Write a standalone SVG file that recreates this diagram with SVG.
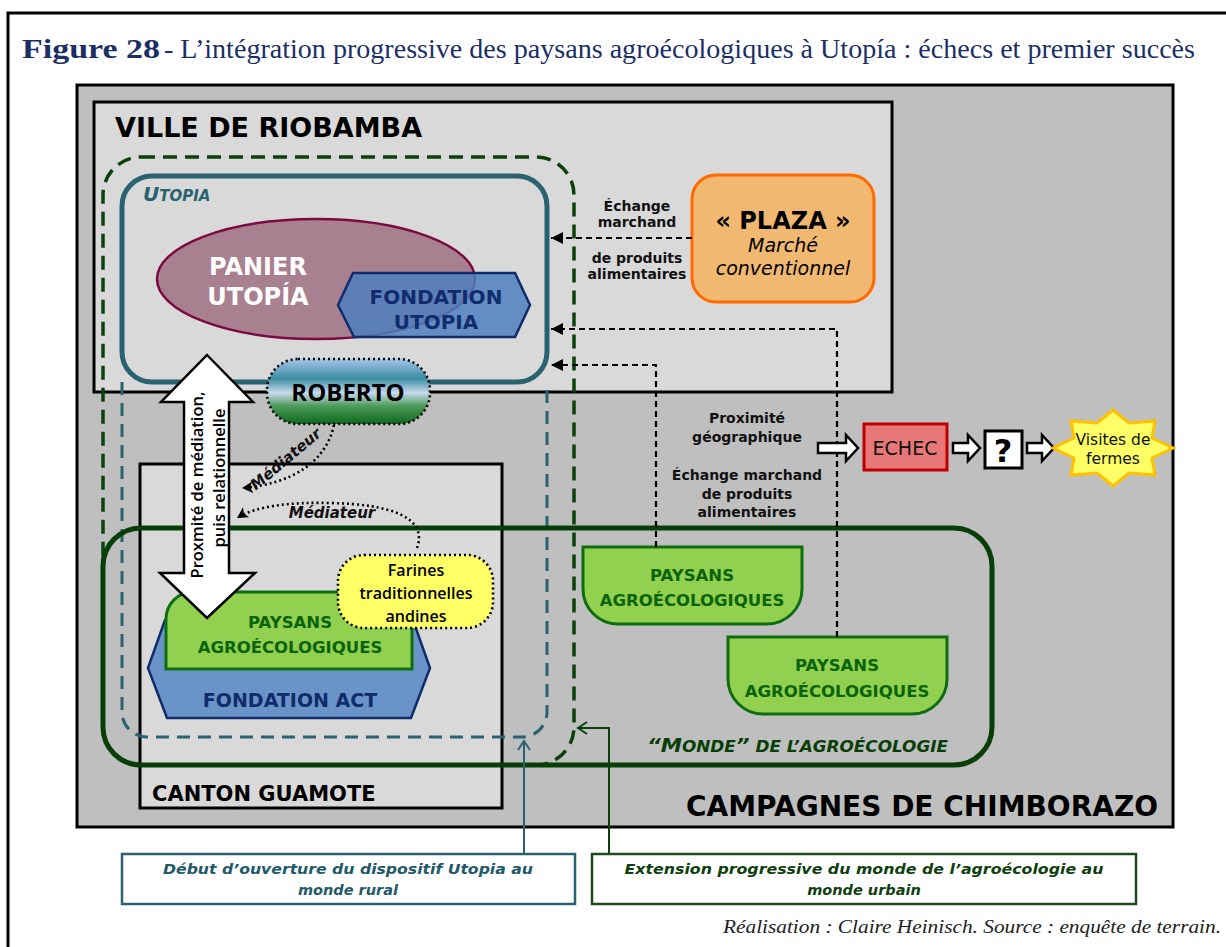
<svg xmlns="http://www.w3.org/2000/svg" width="1226" height="947" viewBox="0 0 1226 947">
<style>
.sans{font-family:"DejaVu Sans","Verdana",sans-serif}
.b{font-weight:bold}
.it{font-style:italic}
.os{font-family:"Open Sans","Liberation Sans",sans-serif}
.c{text-anchor:middle}
.lbl{font-family:"DejaVu Sans",sans-serif;font-weight:bold;font-size:14px;fill:#111;text-anchor:middle}
.pay{font-family:"DejaVu Sans",sans-serif;font-weight:bold;font-size:16.5px;fill:#0A640A;text-anchor:middle}
.paybox{fill:#92D050;stroke:#0E6E0E;stroke-width:3}
.dash{fill:none;stroke:#000;stroke-width:2.2;stroke-dasharray:6 4}
.dot{fill:none;stroke:#000;stroke-width:2.6;stroke-dasharray:2 3}
.blk{fill:#fff;stroke:#000;stroke-width:2.5;stroke-linejoin:miter}
</style>
<defs>
<marker id="ah" markerUnits="userSpaceOnUse" markerWidth="14" markerHeight="14" refX="12" refY="6" orient="auto">
<path d="M0,0 L12,6 L0,12 z" fill="#000"/>
</marker>
<marker id="med" markerUnits="userSpaceOnUse" markerWidth="14" markerHeight="14" refX="11" refY="6" orient="auto">
<path d="M0,0 L11,6 L0,12 L3,6 z" fill="#000"/>
</marker>
<marker id="tealopen" markerUnits="userSpaceOnUse" markerWidth="16" markerHeight="16" refX="10" refY="7" orient="auto">
<path d="M1,1 L10,7 L1,13" fill="none" stroke="#2B6272" stroke-width="2"/>
</marker>
<marker id="greenopen" markerUnits="userSpaceOnUse" markerWidth="16" markerHeight="16" refX="10" refY="7" orient="auto">
<path d="M1,1 L10,7 L1,13" fill="none" stroke="#0B420B" stroke-width="2"/>
</marker>
<linearGradient id="rob" x1="0" y1="0" x2="0" y2="1">
<stop offset="0" stop-color="#A6C6EA"/>
<stop offset="0.3" stop-color="#3A8CA0"/>
<stop offset="0.52" stop-color="#C8DAEE"/>
<stop offset="0.72" stop-color="#4E9C5C"/>
<stop offset="1" stop-color="#0E681C"/>
</linearGradient>
</defs>

<rect x="0" y="0" width="1226" height="947" fill="#fff"/>
<rect x="8" y="13" width="1230" height="950" fill="none" stroke="#000" stroke-width="3"/>

<text x="22" y="58" font-family="Liberation Serif,serif" font-weight="bold" font-size="28" fill="#1B2F66" textLength="138" lengthAdjust="spacingAndGlyphs">Figure 28</text>
<text x="164" y="58" font-family="Liberation Serif,serif" font-size="27" fill="#1B2F66" textLength="1031" lengthAdjust="spacingAndGlyphs">- L’intégration progressive des paysans agroécologiques à Utopía : échecs et premier succès</text>

<g id="campagnes">
<rect x="77" y="85" width="1096" height="742" fill="#BFBFBF" stroke="#000" stroke-width="3"/>
<text x="1158" y="816" class="sans b" font-size="28" text-anchor="end" fill="#000">CAMPAGNES DE CHIMBORAZO</text>
</g>
<g id="ville">
<rect x="94" y="102" width="798" height="290" fill="#D9D9D9" stroke="#000" stroke-width="3"/>
<text x="115" y="137" class="sans b" font-size="27" fill="#000">VILLE DE RIOBAMBA</text>
</g>
<g id="guamote">
<rect x="140" y="464" width="362" height="344" fill="#D9D9D9" stroke="#000" stroke-width="3"/>
<text x="152" y="801" class="sans b" font-size="21" fill="#000">CANTON GUAMOTE</text>
</g>

<g id="extension-agro">
<rect x="103" y="157" width="471" height="608" rx="38" fill="none" stroke="#0B420B" stroke-width="3.5" stroke-dasharray="14 8"/>
</g>
<g id="extension-utopia">
<path d="M122,382 V712 A25,25 0 0 0 147,737 H522 A25,25 0 0 0 547,712 V382" fill="none" stroke="#2B6272" stroke-width="3" stroke-dasharray="13 8"/>
</g>
<g id="monde">
<rect x="103" y="528" width="889" height="237" rx="38" fill="none" stroke="#073F07" stroke-width="5"/>
<text x="948" y="752" class="sans b it" font-size="15" fill="#073F07" text-anchor="end" textLength="301" lengthAdjust="spacingAndGlyphs"><tspan font-size="19">“M</tspan>ONDE<tspan font-size="19">”</tspan> DE L’AGROÉCOLOGIE</text>
</g>
<g id="utopia">
<rect x="122" y="176" width="425" height="206" rx="30" fill="none" stroke="#2B6272" stroke-width="5"/>
<text x="143" y="201" class="sans b it" fill="#2B6272" font-size="15"><tspan font-size="20">U</tspan>TOPIA</text>
</g>
<g id="panier">
<ellipse cx="316" cy="279" rx="159" ry="60" fill="#A9808F" stroke="#7A0A40" stroke-width="2.5"/>
<text x="258" y="275" class="sans b c" font-size="24" fill="#fff">PANIER</text>
<text x="258" y="305" class="sans b c" font-size="24" fill="#fff">UTOPÍA</text>
</g>
<g id="fondation-utopia">
<polygon points="338,305 353,273 515,273 530,305 515,337 354,337" fill="#4F7FC0" fill-opacity="0.85" stroke="#102C6C" stroke-width="2.5"/>
<text x="436" y="304" class="sans b c" font-size="20" fill="#102C6C">FONDATION</text>
<text x="436" y="329" class="sans b c" font-size="20" fill="#102C6C">UTOPIA</text>
</g>
<g id="fondation-act">
<polygon points="148,668 165,620 413,620 430,668 411,718 167,718" fill="#6A93C7" stroke="#102C6C" stroke-width="2.5"/>
<text x="290" y="707" class="sans b c" font-size="19" fill="#102C6C">FONDATION ACT</text>
</g>
<g id="paysans-guamote">
<path class="paybox" d="M166,669 V619 A27,27 0 0 1 193,592 H412 V669 Z"/>
<text x="290" y="628" class="pay">PAYSANS</text>
<text x="290" y="653" class="pay">AGROÉCOLOGIQUES</text>
</g>
<g id="paysans-1">
<path class="paybox" d="M583,547 H802 V589 A35,35 0 0 1 767,624 H618 A35,35 0 0 1 583,589 Z"/>
<text x="692" y="581" class="pay">PAYSANS</text>
<text x="692" y="606" class="pay">AGROÉCOLOGIQUES</text>
</g>
<g id="paysans-2">
<path class="paybox" d="M728,637 H947 V679 A35,35 0 0 1 912,714 H763 A35,35 0 0 1 728,679 Z"/>
<text x="837" y="671" class="pay">PAYSANS</text>
<text x="837" y="697" class="pay">AGROÉCOLOGIQUES</text>
</g>
<g id="plaza">
<rect x="692" y="175" width="182" height="127" rx="24" fill="#F0B870" stroke="#FF6A00" stroke-width="3"/>
<text x="783" y="229" class="sans b c" font-size="24" fill="#000">« PLAZA »</text>
<text x="783" y="252" class="sans it c" font-size="19" fill="#000">Marché</text>
<text x="783" y="275" class="sans it c" font-size="19" fill="#000">conventionnel</text>
</g>

<g id="connectors">
<path class="dash" d="M692,238 H551" marker-end="url(#ah)"/>
<path class="dash" d="M837,637 V329 H551" marker-end="url(#ah)"/>
<path class="dash" d="M656,547 V365 H551" marker-end="url(#ah)"/>
<text x="637" y="211" class="lbl">Échange</text>
<text x="637" y="227" class="lbl">marchand</text>
<text x="637" y="263" class="lbl">de produits</text>
<text x="637" y="279" class="lbl">alimentaires</text>
<text x="747" y="423" class="lbl" font-size="15">Proximité</text>
<text x="747" y="442" class="lbl" font-size="15">géographique</text>
<text x="747" y="480" class="lbl" font-size="15">Échange marchand</text>
<text x="747" y="499" class="lbl" font-size="15">de produits</text>
<text x="747" y="517" class="lbl" font-size="15">alimentaires</text>
<path class="dot" d="M334,425 C326,462 292,484 242,488" marker-end="url(#med)"/>
<path class="dot" d="M417,548 C428,518 392,504 330,503 C290,502 256,506 237,518" marker-end="url(#med)"/>
<text transform="translate(289,463) rotate(-40)" class="sans b it c" font-size="15" fill="#111">Médiateur</text>
<text x="332" y="518" class="sans b it c" font-size="15" fill="#111">Médiateur</text>
<path class="blk" d="M818,443 H846 V435 L858,448 L846,461 V453 H818 Z"/>
<path class="blk" d="M953,443 H968 V435 L980,448 L968,461 V453 H953 Z"/>
<path class="blk" d="M1027,443 H1042 V435 L1054,448 L1042,461 V453 H1027 Z"/>
<path d="M524,853 V741" fill="none" stroke="#2B6272" stroke-width="2" marker-end="url(#tealopen)"/>
<path d="M609,853 V728 H578" fill="none" stroke="#0B420B" stroke-width="2" marker-end="url(#greenopen)"/>
</g>

<g id="proximite-arrow">
<polygon class="blk" points="207,355 253,402 229,402 229,573 255,573 207,618 160,573 184,573 184,402 161,402"/>
<text transform="translate(203,485) rotate(-90)" class="os c" font-weight="600" font-size="16.5" fill="#000">Proxmité de médiation,</text>
<text transform="translate(225,478) rotate(-90)" class="os c" font-weight="600" font-size="16.5" fill="#000">puis relationnelle</text>
</g>

<g id="farines">
<rect x="338" y="555" width="155" height="73" rx="26" fill="#FFFF66" stroke="#000" stroke-width="2.6" stroke-dasharray="2 3"/>
<text x="416" y="576" class="os c" font-weight="600" font-size="16" fill="#000">Farines</text>
<text x="416" y="599" class="os c" font-weight="600" font-size="16" fill="#000">traditionnelles</text>
<text x="416" y="622" class="os c" font-weight="600" font-size="16" fill="#000">andines</text>
</g>

<g id="roberto">
<rect x="267" y="359" width="163" height="65" rx="31" fill="url(#rob)" stroke="#000" stroke-width="2.6" stroke-dasharray="2 3"/>
<text x="348" y="401" class="os b c" font-size="24" fill="#000">ROBERTO</text>
</g>

<g id="echec">
<rect x="864" y="424" width="83" height="46" fill="#E87777" stroke="#C00000" stroke-width="3"/>
<text x="905" y="455" class="sans c" font-size="19" fill="#111">ECHEC</text>
</g>
<g id="question">
<rect x="985" y="431" width="37" height="37" fill="#fff" stroke="#000" stroke-width="3"/>
<text x="1003" y="462" class="sans b c" font-size="32" fill="#000">?</text>
</g>
<g id="visites">
<polygon points="1113,410 1129,423 1155,421 1152,438 1173,448 1152,458 1155,475 1129,473 1113,486 1097,473 1071,475 1074,458 1053,448 1074,438 1071,421 1097,423" fill="#FFFF66" stroke="#FFC000" stroke-width="3"/>
<text x="1113" y="445" class="sans c" font-size="15.5" fill="#111">Visites de</text>
<text x="1113" y="464" class="sans c" font-size="15.5" fill="#111">fermes</text>
</g>

<g id="note-utopia">
<rect x="122" y="854" width="453" height="50" fill="#fff" stroke="#2B6272" stroke-width="2.5"/>
<text x="348" y="874" class="sans b it c" font-size="14.5" fill="#215968" textLength="370" lengthAdjust="spacingAndGlyphs">Début d’ouverture du dispositif Utopia au</text>
<text x="348" y="895" class="sans b it c" font-size="14.5" fill="#215968">monde rural</text>
</g>
<g id="note-agro">
<rect x="592" y="854" width="544" height="50" fill="#fff" stroke="#1B4D1B" stroke-width="2.5"/>
<text x="864" y="874" class="sans b it c" font-size="14.5" fill="#0F3F0F" textLength="479" lengthAdjust="spacingAndGlyphs">Extension progressive du monde de l’agroécologie au</text>
<text x="864" y="895" class="sans b it c" font-size="14.5" fill="#0F3F0F">monde urbain</text>
</g>

<text x="1221" y="933" font-family="Liberation Serif,serif" font-style="italic" font-size="19" text-anchor="end" fill="#222" textLength="498" lengthAdjust="spacingAndGlyphs">Réalisation : Claire Heinisch. Source : enquête de terrain.</text>
</svg>
